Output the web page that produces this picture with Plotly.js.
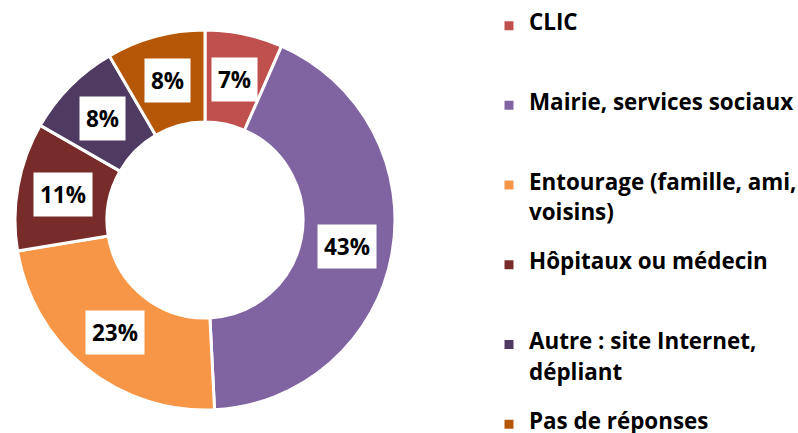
<!DOCTYPE html>
<html><head><meta charset="utf-8">
<script src="https://cdn.plot.ly/plotly-3.0.1.min.js"></script>
<style>html,body{margin:0;padding:0;background:#fff;}#chart{width:798px;height:433px;}</style>
</head><body><div id="chart"></div>
<script>
const categories = ["CLIC", "Mairie, services sociaux", "Entourage (famille, ami, voisins)", "Hôpitaux ou médecin", "Autre : site Internet, dépliant", "Pas de réponses"];
const legendLines = [["CLIC"], ["Mairie, services sociaux"], ["Entourage (famille, ami,", "voisins)"], ["Hôpitaux ou médecin"], ["Autre : site Internet,", "dépliant"], ["Pas de réponses"]];
const values = [6.6, 42.6, 23.2, 10.9, 8.3, 8.4];
const colors = ["#C0504D", "#8064A2", "#F79646", "#772C2A", "#4F3B62", "#B65708"];

const W = 798, H = 433;
const cx = 205, cy = 220, R = 190, hole = 0.516;
const total = values.reduce((a, b) => a + b, 0);

// legend labels: a small base line height lets the wrapped entries get wider line spacing
// while every entry keeps the same slot height
const big = t => '<span style="font-size:22.4px">' + t + '</span>';
const legendLabels = legendLines.map((lines, i) => {
  const l = [big(lines[0]), ' '];
  l.push(lines[1] ? big(lines[1]) : ' ');
  if (i < legendLines.length - 1) { l.push(' ', ' '); }
  else if (!lines[1]) { l.length = 1; }
  return l.join('<br>');
});

// label positions derived from the slice values
const rMid = R * (1 + hole) / 2;
let acc = 0;
const annotations = values.map((v) => {
  const mid = (acc + v / 2) / total * 2 * Math.PI;
  acc += v;
  const px = cx + rMid * Math.sin(mid);
  const py = cy - rMid * Math.cos(mid);
  return {
    xref: 'paper', yref: 'paper', x: px / W, y: 1 - py / H,
    xanchor: 'center', yanchor: 'middle', showarrow: false,
    text: Math.round(v / total * 100) + '%',
    font: {family: '"Open Sans", sans-serif', size: 22.5, color: '#000', weight: 'bold'},
    bgcolor: '#ffffff', borderpad: 6
  };
});

const trace = {
  type: 'pie',
  labels: legendLabels,
  values: values,
  sort: false,
  direction: 'clockwise',
  rotation: 0,
  hole: hole,
  textinfo: 'none',
  hoverinfo: 'skip',
  marker: {colors: colors, line: {color: '#ffffff', width: 3}},
  domain: {x: [(cx - R) / W, (cx + R) / W], y: [(H - cy - R) / H, (H - cy + R) / H]}
};

const layout = {
  width: W, height: H,
  margin: {l: 0, r: 0, t: 0, b: 0, autoexpand: false},
  paper_bgcolor: '#ffffff',
  showlegend: true,
  legend: {
    x: 489 / W, y: 0.9735, xanchor: 'left', yanchor: 'top',
    font: {family: '"Open Sans", sans-serif', size: 11.8, color: '#000', weight: 'bold'},
    valign: 'top', itemclick: false, itemdoubleclick: false,
    bgcolor: 'rgba(0,0,0,0)', maxheight: 1000
  },
  annotations: annotations
};

Plotly.newPlot('chart', [trace], layout, {staticPlot: true, displayModeBar: false});
</script></body></html>
